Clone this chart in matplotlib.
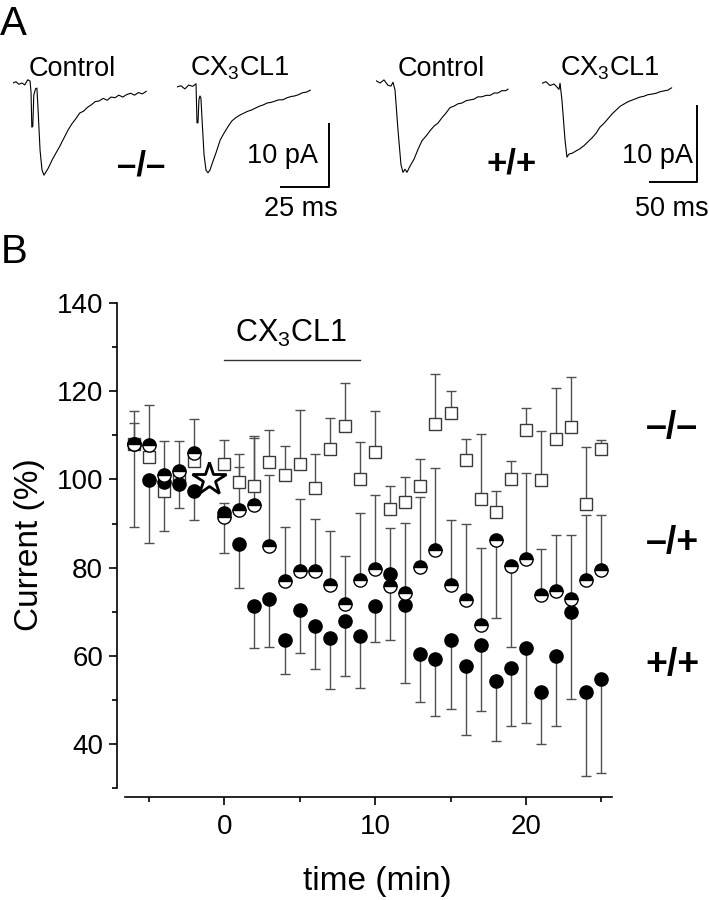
import matplotlib

matplotlib.use("Agg")
import matplotlib.pyplot as plt
import numpy as np

plt.rcParams.update(
    {
        "font.family": ["Liberation Sans", "DejaVu Sans"],
        "mathtext.fontset": "custom",
        "mathtext.rm": "Liberation Sans",
        "mathtext.default": "regular",
    }
)

W, H = 709, 900

# ---------------- panel A: example currents (ms, pA) ----------------
ko_ctrl_t = [0, 1.5, 3, 4.5, 6, 7.5, 8.7, 9.2, 9.6, 10.1, 10.6, 11.5, 12.2, 12.8,
             13.8, 14.8, 15.8, 16.8, 18, 20, 22, 24, 26, 28, 30, 32, 34, 36, 38,
             40, 42, 44, 46, 48, 50, 52, 54, 56, 58, 60, 62, 64, 66, 68]
ko_ctrl_i = [0.0, 0.2, -0.2, 0.0, -0.3, 0.5, 0.3, -1.4, -6.9, -6.8, -1.9, -0.9,
             -0.8, -4.2, -10.5, -13.6, -14.4, -13.9, -13.3, -12.0, -10.9, -9.8,
             -8.6, -7.4, -6.4, -5.6, -4.7, -4.4, -3.8, -3.4, -2.9, -2.8, -2.4,
             -2.7, -2.2, -2.3, -1.9, -2.2, -1.8, -1.6, -1.9, -1.5, -1.7, -1.3]
ko_cx_t = [0, 2, 4, 6, 8, 9.7, 10.2, 10.7, 11.2, 11.7, 12.2, 12.8, 13.8, 14.8,
           15.8, 16.8, 17.9, 20, 22, 24, 26, 28, 30, 32, 34, 36, 38, 40, 42, 44,
           46, 48, 50, 52, 54, 56, 58, 60, 62, 64, 66, 68]
ko_cx_i = [0.0, 0.2, -0.3, 0.3, 0.1, 0.5, -5.6, -5.6, -2.0, -1.4, -1.7, -5.2,
           -10.6, -13.0, -13.4, -13.0, -12.0, -10.2, -8.3, -7.2, -6.2, -5.3,
           -4.8, -4.4, -4.1, -3.8, -3.6, -3.3, -3.0, -2.8, -2.5, -2.4, -2.2,
           -2.0, -2.0, -1.7, -1.5, -1.4, -1.2, -0.9, -0.8, -0.5]
wt_ctrl_t = [0, 4.2, 8.3, 12.5, 15.6, 17.7, 19.8, 22.9, 26.0, 28.1, 30.2, 32.3,
             35.4, 39.6, 43.8, 47.9, 52.1, 56.3, 60.4, 64.6, 68.8, 72.9, 77.1,
             81.3, 85.4, 89.6, 93.8, 97.9, 102, 106, 110, 115, 119, 123, 127,
             131, 135, 137.5]
wt_ctrl_i = [0.3, 0.0, 0.4, -0.3, -0.4, 0.1, -0.9, -6.1, -10.6, -11.6, -11.2,
             -11.6, -10.8, -9.9, -8.6, -7.5, -6.9, -6.2, -5.6, -5.2, -4.5, -3.9,
             -3.2, -3.0, -2.7, -2.6, -2.3, -2.2, -2.1, -1.8, -1.8, -1.6, -1.6,
             -1.3, -1.3, -1.0, -1.0, -0.8]
wt_cx_t = [0, 4.2, 8.3, 12.5, 15.6, 17.7, 18.8, 20.8, 24.0, 26.0, 28.1, 31.3,
           35.4, 39.6, 43.8, 47.9, 52.1, 56.3, 60.4, 64.6, 68.8, 72.9, 77.1, 81.3,
           85.4, 89.6, 93.8, 97.9, 102, 106, 110, 115, 119, 123, 127, 131, 135]
wt_cx_i = [0.1, 0.3, -0.2, 0.0, -0.4, -0.7, 0.1, -2.1, -7.3, -9.5, -9.1, -9.0,
           -8.7, -8.4, -8.0, -7.5, -7.0, -6.4, -5.6, -5.1, -4.5, -3.9, -3.4,
           -2.9, -2.6, -2.3, -2.1, -1.9, -1.7, -1.6, -1.4, -1.3, -1.2, -1.0,
           -0.9, -0.8, -0.5]

# ---------------- panel B: time course (% of baseline) ----------------
minutes = [-6, -5, -4, -3, -2, 0, 1, 2, 3, 4, 5, 6, 7, 8, 9, 10, 11, 12, 13, 14,
           15, 16, 17, 18, 19, 20, 21, 22, 23, 24, 25]
ko_mean = [108.0, 105.1, 97.3, 100.5, 104.1, 103.4, 99.4, 98.6, 103.9, 101.1,
           103.4, 98.1, 107.0, 112.1, 100.2, 106.2, 93.4, 94.9, 98.5, 112.5,
           115.1, 104.3, 95.6, 92.6, 100.0, 111.1, 99.8, 109.2, 111.9, 94.5, 107.0]
ko_top = [112.9, 107.0, 99.0, 102.0, 106.0, 109.0, 105.7, 109.8, 111.3, 107.6,
          115.8, 105.7, 113.9, 121.8, 108.5, 115.5, 98.4, 100.5, 104.7, 124.0,
          120.0, 109.1, 110.2, 97.3, 104.1, 116.3, 111.0, 120.8, 123.3, 107.3, 109.0]
het_mean = [108.1, 107.9, 101.1, 101.9, 106.0, 91.5, 93.0, 94.1, 84.9, 76.9,
            79.3, 79.3, 76.0, 71.7, 77.1, 79.7, 75.8, 74.3, 80.1, 84.1, 76.0,
            72.6, 67.1, 86.2, 80.3, 81.9, 73.9, 74.7, 72.9, 77.1, 79.4]
het_top = [115.5, 116.8, 108.8, 108.7, 113.8, 94.6, 102.8, 109.5, 101.1, 89.2,
           95.5, 91.0, 88.2, 82.6, 92.4, 96.4, 89.0, 90.1, 96.0, 102.6, 90.7,
           89.8, 84.4, 86.2, 80.3, 101.4, 84.3, 87.3, 87.5, 92.0, 92.0]
het_bottom = [108.1, 107.9, 101.1, 101.9, 106.0, 91.5, 93.0, 94.1, 84.9, 76.9,
              79.3, 79.3, 76.0, 71.7, 77.1, 79.7, 75.8, 74.3, 80.1, 84.1, 76.0,
              72.6, 67.1, 68.6, 62.0, 81.9, 73.9, 74.7, 72.9, 77.1, 79.4]
wt_mean = [108.0, 99.8, 99.5, 98.9, 97.3, 92.4, 85.4, 71.2, 72.8, 63.7, 70.3,
           66.7, 64.1, 68.0, 64.5, 71.4, 78.5, 71.6, 60.5, 59.3, 63.5, 57.8, 62.4,
           54.4, 57.3, 61.8, 51.8, 59.9, 69.9, 51.8, 54.8]
wt_bottom = [89.2, 85.6, 88.2, 93.5, 90.9, 83.4, 75.4, 61.8, 62.0, 55.9, 60.6,
             57.1, 52.4, 55.5, 52.7, 63.1, 63.7, 53.9, 49.5, 46.3, 48.0, 42.1,
             47.5, 40.6, 44.2, 44.8, 40.1, 44.2, 50.3, 32.7, 33.4]
star_minute, star_value = -1, 100.0
treatment_start, treatment_end = 0, 9


def fig_xy(x, y):
    """Canvas pixels to figure fraction."""
    return x / W, 1 - y / H


def trace_axes(fig, x0, y0, px_per_ms, px_per_pa, span_ms, span_pa):
    """Invisible axes with (0 ms, 0 pA) placed at canvas pixel (x0, y0)."""
    top = y0 - 3 * px_per_pa
    bottom = y0 + span_pa * px_per_pa
    ax = fig.add_axes(
        [x0 / W, 1 - bottom / H, span_ms * px_per_ms / W, (bottom - top) / H]
    )
    ax.set_xlim(0, span_ms)
    ax.set_ylim(-span_pa, 3)
    ax.axis("off")
    return ax


fig = plt.figure(figsize=(W / 100, H / 100), dpi=100)

trace_kw = dict(color="black", linewidth=0.8)
bar_kw = dict(color="black", linewidth=1.4, clip_on=False, solid_capstyle="butt")
ax = trace_axes(fig, 13, 83, 1.96, 6.4, 70, 17)
ax.plot(ko_ctrl_t, ko_ctrl_i, **trace_kw)
ax = trace_axes(fig, 177, 87, 1.96, 6.4, 80, 17)
ax.plot(ko_cx_t, ko_cx_i, **trace_kw)
ax.plot([77.6, 77.6, 52.6], [-5.6, -15.6, -15.6], **bar_kw)
ax = trace_axes(fig, 376, 83, 0.96, 7.7, 140, 14)
ax.plot(wt_ctrl_t, wt_ctrl_i, **trace_kw)
ax = trace_axes(fig, 542, 84, 0.96, 7.7, 165, 14)
ax.plot(wt_cx_t, wt_cx_i, **trace_kw)
ax.plot([161.5, 161.5, 111.5], [-2.7, -12.7, -12.7], **bar_kw)

label_size = 19.5
for x, y, s, ha in [
    (72, 76, "Control", "center"),
    (240, 76, "CX$_3$CL1", "center"),
    (318, 163, "10 pA", "right"),
    (301, 216, "25 ms", "center"),
    (441, 76, "Control", "center"),
    (610, 76, "CX$_3$CL1", "center"),
    (693, 163, "10 pA", "right"),
    (672, 216, "50 ms", "center"),
]:
    fig.text(*fig_xy(x, y), s, ha=ha, va="baseline", fontsize=label_size)
fig.text(*fig_xy(141, 176), "\u2013/\u2013", ha="center", va="baseline",
         fontsize=25, fontweight="bold")
fig.text(*fig_xy(512, 174), "+/+", ha="center", va="baseline",
         fontsize=25, fontweight="bold")
fig.text(*fig_xy(0, 35), "A", ha="left", va="baseline", fontsize=29)
fig.text(*fig_xy(1, 263), "B", ha="left", va="baseline", fontsize=29)

# ---------------- panel B ----------------
ax = fig.add_axes([117 / W, 1 - 797 / H, (612 - 117) / W, (797 - 303) / H])
ax.set_xlim(-7.1, 25.7)
ax.set_ylim(28, 140)

t = np.asarray(minutes, dtype=float)
err_kw = dict(fmt="none", ecolor="#505050", elinewidth=1.0, capsize=3.5,
              capthick=1.0, zorder=2)
ko = np.asarray(ko_mean)
het = np.asarray(het_mean)
wt = np.asarray(wt_mean)
ax.errorbar(t, ko, yerr=[np.zeros_like(ko), np.asarray(ko_top) - ko], **err_kw)
ax.errorbar(t, het, yerr=[het - np.asarray(het_bottom), np.asarray(het_top) - het],
            **err_kw)
ax.errorbar(t, wt, yerr=[wt - np.asarray(wt_bottom), np.zeros_like(wt)], **err_kw)

ax.plot(t, ko, linestyle="none", marker="s", markersize=8.5,
        markerfacecolor="white", markeredgecolor="#3a3a3a",
        markeredgewidth=1.0, zorder=3)
ax.plot(t, wt, linestyle="none", marker="o", markersize=9.5,
        markerfacecolor="black", markeredgecolor="black", zorder=4)
ax.plot(t, het, linestyle="none", marker="o", markersize=9.5, fillstyle="top",
        markerfacecolor="black", markerfacecoloralt="white",
        markeredgecolor="black", markeredgewidth=1.0, zorder=5)
ax.plot([star_minute], [star_value], linestyle="none", marker="*",
        markersize=25, markerfacecolor="white", markeredgecolor="black",
        markeredgewidth=2.0, zorder=5)

ax.plot([treatment_start, treatment_end], [127, 127], color="#333333",
        linewidth=1.0)
ax.text((treatment_start + treatment_end) / 2 - 0.1, 129.5, "CX$_3$CL1",
        ha="center", va="bottom", fontsize=22)

for s, y in [("\u2013/\u2013", 438), ("\u2013/+", 553), ("+/+", 675)]:
    fig.text(*fig_xy(672, y), s, ha="center", va="baseline", fontsize=27,
             fontweight="bold")

for side in ("top", "right"):
    ax.spines[side].set_visible(False)
ax.spines["left"].set_bounds(30, 140)
ax.spines["bottom"].set_bounds(-6.6, 25.7)
for side in ("left", "bottom"):
    ax.spines[side].set_linewidth(1.2)

ax.set_yticks(np.arange(40, 141, 20))
ax.set_yticks(np.arange(30, 141, 10), minor=True)
ax.set_xticks([0, 10, 20])
ax.set_xticks([-5, 5, 15, 25], minor=True)
ax.tick_params(which="major", direction="out", length=6, width=1.2,
               labelsize=20, pad=4)
ax.tick_params(which="minor", direction="out", length=3.5, width=1.2)
ax.tick_params(axis="x", which="major", pad=6)

fig.text(*fig_xy(30, 545), "Current (%)", rotation=90, ha="center",
         va="center", fontsize=24)
fig.text(*fig_xy(377, 890), "time (min)", ha="center", va="baseline",
         fontsize=24)

fig.savefig("out.png", dpi=100)
